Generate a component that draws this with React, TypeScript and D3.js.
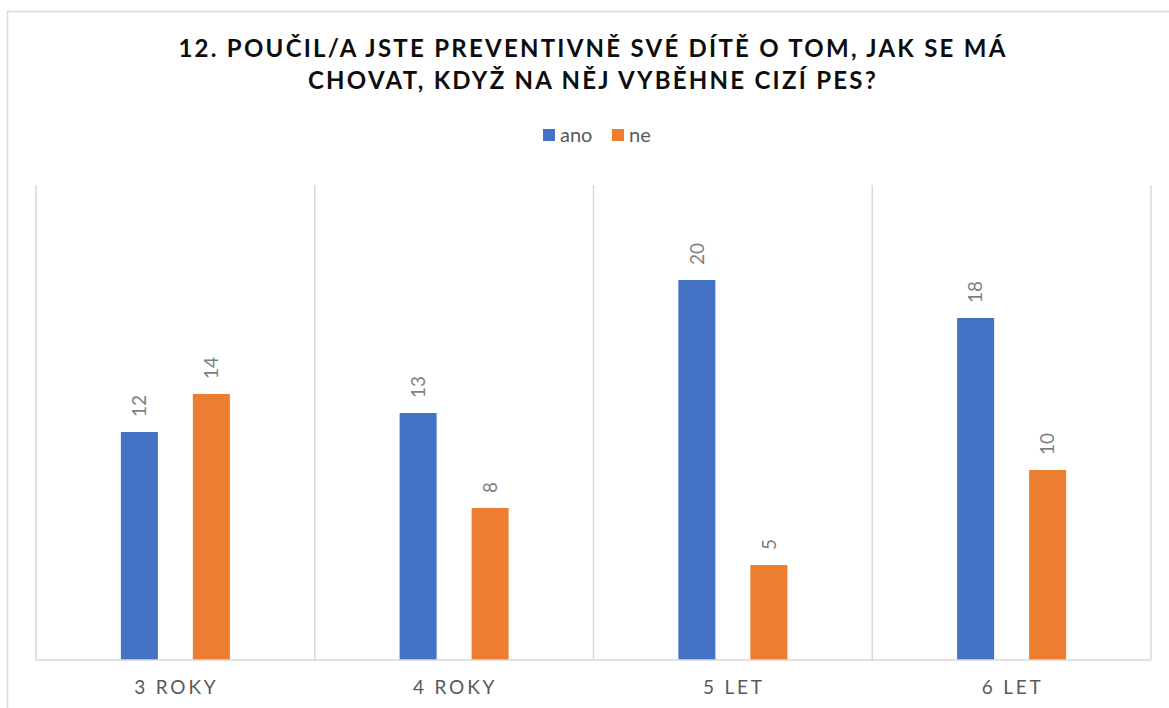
import React from "react";
import * as d3 from "d3";

const categories = ["3 ROKY", "4 ROKY", "5 LET", "6 LET"];
const seriesNames = ["ano", "ne"];
const anoValues = [12, 13, 20, 18];
const neValues = [14, 8, 5, 10];
const titleLines = [
  "12. POUČIL/A JSTE PREVENTIVNĚ SVÉ DÍTĚ O TOM, JAK SE MÁ",
  "CHOVAT, KDYŽ NA NĚJ VYBĚHNE CIZÍ PES?",
];
const colors = ["#4472C4", "#ED7D31"];

const W = 1169;
const H = 708;
const plot = { left: 36, right: 1151, top: 185, bottom: 660 };
const FONT = "Lato, 'Open Sans', sans-serif";

export default function App() {
  const x = d3.scaleBand<string>().domain(categories).range([plot.left, plot.right]).padding(0);
  const bw = x.bandwidth();
  const groupW = 109;
  const off = (bw - groupW) / 2;
  const xi = d3.scaleBand<string>().domain(seriesNames).range([off, off + groupW]).paddingInner(35 / 72).paddingOuter(0);
  const y = d3.scaleLinear().domain([0, 25]).range([plot.bottom, plot.top]);
  const series = [anoValues, neValues];
  const gridXs = [...categories.map((c) => x(c) as number), plot.right];

  return (
    <svg width={W} height={H} style={{ position: "absolute", left: 0, top: 0, background: "#fff" }}>
      <rect x={7.5} y={11.5} width={W + 10} height={H + 10} fill="#fff" stroke="#d9d9d9" strokeWidth={1.5} />
      {titleLines.map((t, i) => (
        <text key={i} x={593} y={57 + i * 31.5} textAnchor="middle" fontFamily={FONT} fontWeight={700}
          fontSize={24} letterSpacing={2.25} fill="#0d0d0d">{t}</text>
      ))}
      {/* legend */}
      {seriesNames.map((s, i) => {
        const lx = [543, 612][i];
        return (
          <g key={s}>
            <rect x={lx} y={129} width={12} height={12} fill={colors[i]} />
            <text x={lx + 17} y={142} fontFamily={FONT} fontSize={20} fill="#595959">{s}</text>
          </g>
        );
      })}
      {/* gridlines */}
      {gridXs.map((gx, i) => (
        <line key={i} x1={gx} x2={gx} y1={plot.top} y2={plot.bottom} stroke="#d9d9d9" strokeWidth={1.5} />
      ))}
      {/* bars */}
      {categories.map((c, ci) => (
        <g key={c} transform={`translate(${x(c)},0)`}>
          {series.map((vals, si) => {
            const bx = xi(seriesNames[si]) as number;
            const v = vals[ci];
            const cx = bx + xi.bandwidth() / 2;
            return (
              <g key={si}>
                <rect x={bx} y={y(v)} width={xi.bandwidth()} height={plot.bottom - y(v)} fill={colors[si]} />
                <text transform={`translate(${cx},${y(v) - 15}) rotate(-90)`} dy="0.35em" textAnchor="start"
                  fontFamily={FONT} fontSize={19} fill="#7f7f7f">{v}</text>
              </g>
            );
          })}
        </g>
      ))}
      <line x1={plot.left} x2={plot.right} y1={plot.bottom} y2={plot.bottom} stroke="#d9d9d9" strokeWidth={1.5} />
      {/* x labels */}
      {categories.map((c) => (
        <text key={c} x={(x(c) as number) + bw / 2 + 1} y={694} textAnchor="middle" fontFamily={FONT} fontSize={19}
          letterSpacing={2.8} fill="#595959">{c}</text>
      ))}
    </svg>
  );
}
